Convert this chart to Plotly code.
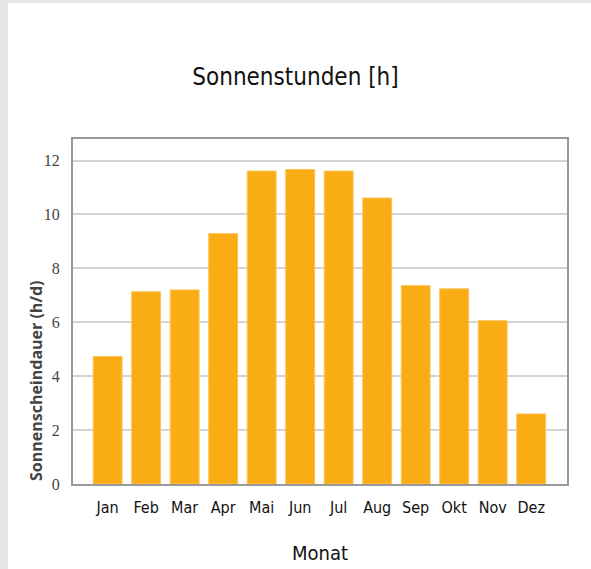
import plotly.graph_objects as go

months = ["Jan", "Feb", "Mar", "Apr", "Mai", "Jun", "Jul", "Aug", "Sep", "Okt", "Nov", "Dez"]
sun_hours = [4.73, 7.13, 7.2, 9.29, 11.61, 11.67, 11.61, 10.61, 7.36, 7.24, 6.06, 2.6]
y_ticks = [0, 2, 4, 6, 8, 10, 12]

W, H = 591, 569
L, R, T, B = 73, 24, 139, 85
pw, ph = W - L - R, H - T - B

def px_x(p):
    return (p - L) / pw

def px_y(p):
    return (H - B - p) / ph

fig = go.Figure()
fig.add_trace(go.Bar(
    x=list(range(len(months))), y=sun_hours,
    marker=dict(color="#F9AC14", line=dict(color="#FBC45A", width=1)),
    hoverinfo="x+y",
))

cond = "DejaVu Sans Condensed, Liberation Sans Narrow, sans-serif"
serif = "Liberation Serif, DejaVu Serif, serif"

fig.update_layout(
    width=W, height=H,
    margin=dict(l=L, r=R, t=T, b=B),
    paper_bgcolor="white", plot_bgcolor="white",
    showlegend=False, bargap=0.25,
    title=dict(text="Sonnenstunden [h]", x=0.5, xanchor="center",
               xref="container", yref="container", y=1 - 77 / H, yanchor="middle",
               font=dict(family=cond, size=24, color="#111")),
    xaxis=dict(
        tickmode="array", tickvals=list(range(len(months))), ticktext=months,
        range=[-0.9, 11.93], showgrid=False, zeroline=False,
        showline=True, mirror=True, linecolor="#999", linewidth=2,
        ticks="outside", ticklen=8, tickcolor="rgba(0,0,0,0)",
        tickfont=dict(family=cond, size=16, color="#111"),
    ),
    yaxis=dict(
        tickmode="array", tickvals=y_ticks, range=[0, 12.8],
        showgrid=True, gridcolor="#d4d4d4", gridwidth=2, zeroline=False,
        showline=True, mirror=True, linecolor="#999", linewidth=2,
        ticks="outside", ticklen=8, tickcolor="rgba(0,0,0,0)",
        tickfont=dict(family=serif, size=16, color="#444"),
    ),
    shapes=[
        dict(type="rect", xref="paper", yref="paper", layer="above",
             x0=px_x(0), x1=px_x(8), y0=px_y(H), y1=px_y(0),
             fillcolor="#e6e6e6", line=dict(width=0)),
        dict(type="rect", xref="paper", yref="paper", layer="above",
             x0=px_x(0), x1=px_x(W), y0=px_y(3), y1=px_y(0),
             fillcolor="#e6e6e6", line=dict(width=0)),
    ],
    annotations=[
        dict(text="Monat", xref="paper", yref="paper", x=0.5, y=px_y(553),
             xanchor="center", yanchor="middle", showarrow=False,
             font=dict(family=cond, size=20, color="#111")),
        dict(text="<b>Sonnenscheindauer (h/d)</b>", xref="paper", yref="paper",
             x=px_x(36), y=px_y(381), textangle=-90,
             xanchor="center", yanchor="middle", showarrow=False,
             font=dict(family="Open Sans, sans-serif", size=16, color="#444")),
    ],
)

fig.write_html("out.html", config={"displayModeBar": False},
               post_script="document.body.style.margin='0';document.body.style.overflow='hidden';")
